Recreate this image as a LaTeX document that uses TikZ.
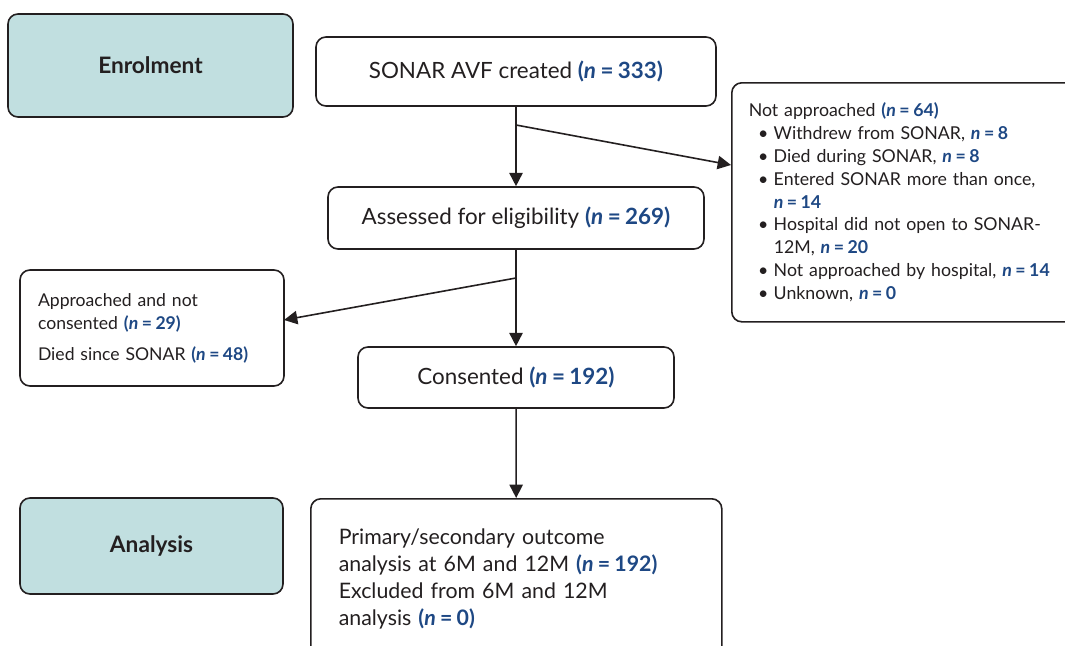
\documentclass[tikz,border=0pt]{standalone}
\usepackage{fontspec}
\setmainfont{Lato}
\usetikzlibrary{arrows.meta}

\definecolor{stagefill}{RGB}{193,223,224}
\definecolor{nblue}{RGB}{30,72,132}
\definecolor{inkgray}{RGB}{35,31,32}

\newcommand{\nval}[1]{{\color{nblue}\bfseries(\textit{n}\hspace{0.2em}=\hspace{0.2em}#1)}}
\newcommand{\nbare}[1]{{\color{nblue}\bfseries\textit{n}\hspace{0.2em}=\hspace{0.2em}#1}}
\newcommand{\bitem}{\hspace*{7pt}\textbullet\hspace{4pt}}
\newcommand{\bcont}{\hspace*{7pt}\phantom{\textbullet}\hspace{4pt}}

\begin{document}
\begin{tikzpicture}[x=0.75pt,y=-0.75pt,
	every node/.style={text=inkgray},
	box/.style={draw=inkgray, line width=1.2pt, rounded corners=7.5pt, fill=white},
	stagebox/.style={box, fill=stagefill, font=\fontsize{17}{20}\selectfont\bfseries},
	mainbox/.style={box, font=\fontsize{16.8}{20}\selectfont},
	sidebox/.style={box, align=left, inner ysep=0pt},
	arr/.style={-{Triangle[length=10pt,width=10pt]}, line width=1.2pt, draw=inkgray}]
	\useasboundingbox (0,0) rectangle (1065,646);

	% stage labels
	\node[stagebox, minimum width=213.75pt, minimum height=77.25pt] (enrol) at (150.5,65.5) {Enrolment};
	\node[stagebox, minimum width=197.25pt, minimum height=72pt] (analysis) at (151.5,546) {Analysis};

	% main column
	\node[mainbox, minimum width=300pt, minimum height=51.75pt] (sonar) at (516,71.5) {SONAR AVF created \nval{333}};
	\node[mainbox, minimum width=282pt, minimum height=46.5pt] (assess) at (516,218) {Assessed for eligibility \nval{269}};
	\node[mainbox, minimum width=237pt, minimum height=45.75pt] (consent) at (516,377.5) {Consented \nval{192}};
	\node[sidebox, anchor=north west, text width=266.25pt, inner xsep=21pt, minimum height=120pt,
		font=\fontsize{16}{20.25}\selectfont] (outcome) at (310,498)
		{Primary/secondary outcome\\
		 analysis at 6M and 12M \nval{192}\\
		 Excluded from 6M and 12M\\
		 analysis \nval{0}};

	% exclusions
	\node[sidebox, anchor=north west, text width=233.25pt, inner xsep=12.75pt, minimum height=179.25pt,
		font=\fontsize{13.3}{17.1}\selectfont] (notapp) at (731,82)
		{Not approached \nval{64}\\
		 \bitem Withdrew from SONAR, \nbare{8}\\
		 \bitem Died during SONAR, \nbare{8}\\
		 \bitem Entered SONAR more than once,\\
		 \bcont \nbare{14}\\
		 \bitem Hospital did not open to SONAR-\\
		 \bcont 12M, \nbare{20}\\
		 \bitem Not approached by hospital, \nbare{14}\\
		 \bitem Unknown, \nbare{0}};
	\node[sidebox, text width=171pt, inner xsep=13.5pt, minimum height=87pt,
		font=\fontsize{13.2}{17.25}\selectfont] (notcons) at (152,328)
		{Approached and not\\
		 consented \nval{29}\\[6pt]
		 Died since SONAR \nval{48}};

	\coordinate (split1) at (516,125);
	\coordinate (split2) at (516,278);
	\coordinate (tip1) at (731,165);
	\coordinate (tip2) at (284,320);

	\draw[arr] (sonar) -- (assess);
	\draw[arr] (split1) -- (tip1);
	\draw[arr] (assess) -- (consent);
	\draw[arr] (split2) -- (tip2);
	\draw[arr] (consent) -- (outcome);
\end{tikzpicture}
\end{document}
